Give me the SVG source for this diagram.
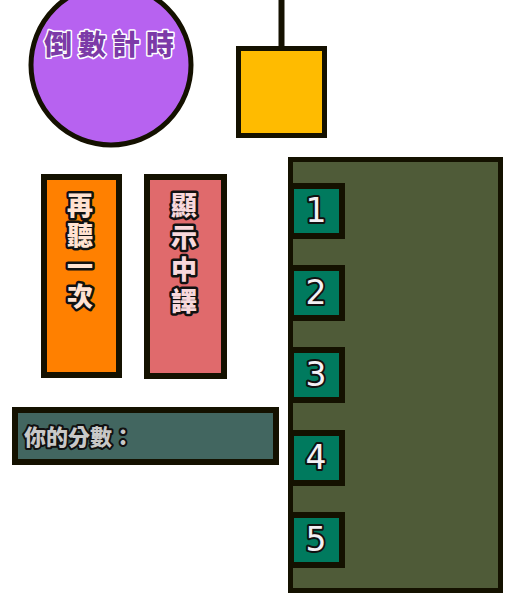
<svg xmlns="http://www.w3.org/2000/svg" width="527" height="614" viewBox="0 0 527 614">
<style>
.bd{stroke:#141100;}
.cjk{font-family:"Noto Sans CJK TC","Noto Sans CJK SC",sans-serif;font-weight:900;paint-order:stroke;stroke-linejoin:round;}
.num{font-family:"DejaVu Sans",sans-serif;font-size:33px;fill:#f4f0f4;stroke:#111;stroke-width:4;paint-order:stroke;stroke-linejoin:round;text-anchor:middle;}
.slot{fill:#007a5e;stroke:#141100;stroke-width:6;}
.vt{font-size:26px;text-anchor:middle;stroke:#111;stroke-width:5;writing-mode:vertical-rl;text-orientation:upright;}
</style>
<rect width="527" height="614" fill="#ffffff"/>
<g id="connectors">
<line x1="281.5" y1="0" x2="281.5" y2="48" stroke="#141100" stroke-width="6"/>
</g>
<g id="countdown">
<circle cx="111" cy="65" r="80" fill="#b762f0" class="bd" stroke-width="5"/>
<text class="cjk" x="112" y="55" font-size="28" letter-spacing="6" text-anchor="middle" fill="#7c3aa8" stroke="#ffffff" stroke-width="3">倒數計時</text>
</g>
<g id="yellow">
<rect x="238.5" y="48.5" width="86" height="87" fill="#ffbb00" class="bd" stroke-width="5"/>
</g>
<g id="replay">
<rect x="44" y="177" width="75" height="198" fill="#ff8000" class="bd" stroke-width="6"/>
<text class="cjk vt" x="80" y="253" letter-spacing="4.5" fill="#ffe2d2">再聽一次</text>
</g>
<g id="translate">
<rect x="147" y="177" width="77" height="199" fill="#e06a6c" class="bd" stroke-width="6"/>
<text class="cjk vt" x="184" y="256" letter-spacing="6" fill="#f8d8dc">顯示中譯</text>
</g>
<g id="score">
<rect x="15" y="410" width="261" height="52" fill="#426660" class="bd" stroke-width="6"/>
<text class="cjk" x="24" y="445" font-size="22" fill="#c8c8c8" stroke="#111" stroke-width="4">你的分數：</text>
</g>
<g id="panel">
<rect x="290.5" y="159.5" width="210" height="431" fill="#4f5b38" class="bd" stroke-width="5"/>
</g>
<g id="opt1"><rect class="slot" x="291" y="186" width="51" height="50"/><text class="num" x="316" y="222">1</text></g>
<g id="opt2"><rect class="slot" x="291" y="268" width="51" height="50"/><text class="num" x="316" y="304">2</text></g>
<g id="opt3"><rect class="slot" x="291" y="350" width="51" height="50"/><text class="num" x="316" y="386">3</text></g>
<g id="opt4"><rect class="slot" x="291" y="433" width="51" height="50"/><text class="num" x="316" y="469">4</text></g>
<g id="opt5"><rect class="slot" x="291" y="515" width="51" height="50"/><text class="num" x="316" y="551">5</text></g>
</svg>
